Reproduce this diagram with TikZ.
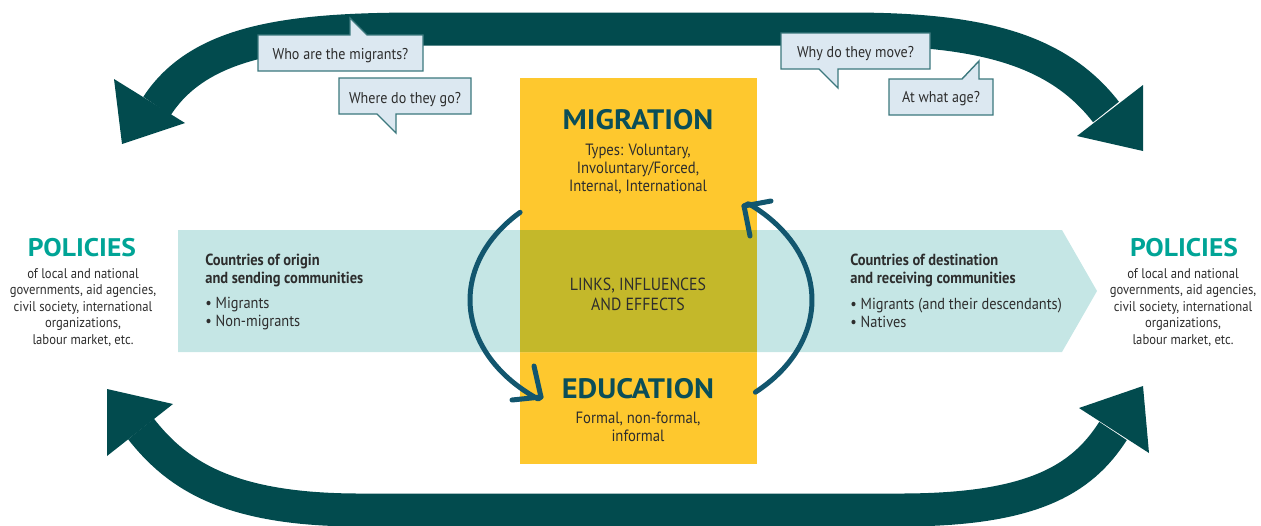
\documentclass[tikz,border=0pt]{standalone}
\usepackage{fontspec}
\setmainfont{PT Sans}[FakeStretch=0.9]
\newfontfamily\titlefont{PT Sans}[FakeStretch=1.08]
\usetikzlibrary{arrows.meta,calc}
\definecolor{darkarrow}{RGB}{2,75,78}
\definecolor{circblue}{RGB}{18,86,110}
\definecolor{myyellow}{RGB}{254,200,46}
\definecolor{bandteal}{RGB}{197,230,229}
\definecolor{overlapc}{RGB}{196,184,42}
\definecolor{calloutfill}{RGB}{220,232,241}
\definecolor{calloutborder}{RGB}{60,120,125}
\definecolor{policyteal}{RGB}{0,164,150}
\definecolor{titleteal}{RGB}{10,78,88}
\definecolor{textgray}{RGB}{45,45,45}
\begin{document}
\begin{tikzpicture}[x=0.02cm,y=-0.02cm,
  bigband/.style={draw=darkarrow,line width=0.66cm},
  headfill/.style={fill=darkarrow},
  circ/.style={draw=circblue,line width=0.1cm,line cap=round,line join=round},
  callout/.style={fill=calloutfill,draw=calloutborder,line width=0.8pt},
  calltext/.style={font=\fontsize{8.9}{11}\selectfont,text=textgray,inner sep=0pt,anchor=base},
  poltitle/.style={font=\titlefont\bfseries\fontsize{14.5}{16}\selectfont,text=policyteal,inner sep=0pt},
  poltext/.style={font=\fontsize{8}{9.35}\selectfont,text=textgray,inner sep=0pt,align=center,anchor=north},
  maintitle/.style={font=\titlefont\bfseries\fontsize{16}{18}\selectfont,text=titleteal,inner sep=0pt},
  typetext/.style={font=\fontsize{9.3}{10.2}\selectfont,text=textgray,inner sep=0pt,align=center,anchor=north},
  linktext/.style={font=\fontsize{10}{11.3}\selectfont,text=textgray,inner sep=0pt,align=center,anchor=north},
  bandhead/.style={font=\bfseries\fontsize{9.15}{10.4}\selectfont,text=textgray,inner sep=0pt,align=left,anchor=base west},
  bandbullet/.style={font=\fontsize{9.1}{10.4}\selectfont,text=textgray,inner sep=0pt,align=left,anchor=base west}
]
\useasboundingbox (0,0) rectangle (1261,525);
% central yellow box and teal band
\fill[myyellow] (520,78) rectangle (757,464);
\fill[bandteal] (178,230) -- (1062,230) -- (1097,291) -- (1062,352) -- (178,352) -- cycle;
\fill[overlapc] (520,230) rectangle (757,352);
% big dark arrows
\coordinate (tl) at (157,106);
\coordinate (tr) at (1106,112);
\coordinate (bl) at (141,429);
\coordinate (br) at (1113,431);
\draw[bigband] (tl) .. controls (200,40) and (290,29) .. (420,29) -- (850,29) .. controls (980,29) and (1057,49) .. (tr);
\fill[headfill] (114,79) -- (122,144) -- (185,123) -- cycle;
\fill[headfill] (1143,85) -- (1143,151) -- (1077,136) -- cycle;
\draw[bigband] (bl) .. controls (178,476) and (230,510) .. (360,510) -- (900,510) .. controls (1030,510) and (1081,481) .. (br);
\fill[headfill] (107,389) -- (173,404) -- (107,456) -- cycle;
\fill[headfill] (1143,386) -- (1079,408) -- (1149,453) -- cycle;
% callouts
\draw[callout] (258,35) -- (350,35) -- (350,18) -- (367,35) -- (423,35) -- (423,71) -- (258,71) -- cycle;
\draw[callout] (339,78) -- (471,78) -- (471,114) -- (396,114) -- (396,133) -- (377,114) -- (339,114) -- cycle;
\draw[callout] (781,33) -- (930,33) -- (930,69) -- (838,69) -- (838,88) -- (819,69) -- (781,69) -- cycle;
\draw[callout] (889,79) -- (962,79) -- (979,61) -- (979,79) -- (993,79) -- (993,115) -- (889,115) -- cycle;
\node[calltext] (q1) at (340.5,59.3) {Who are the migrants?};
\node[calltext] (q2) at (405,103.3) {Where do they go?};
\node[calltext] (q3) at (855.5,57.3) {Why do they move?};
\node[calltext] (q4) at (941,102.7) {At what age?};
% policies
\node[poltitle] (polL) at (82,247.5) {POLICIES};
\node[poltext] (polLt) at (83,268) {of local and national\\governments, aid agencies,\\civil society, international\\organizations,\\labour market, etc.};
\node[poltitle] (polR) at (1184,247.5) {POLICIES};
\node[poltext] (polRt) at (1183,268) {of local and national\\governments, aid agencies,\\civil society, international\\organizations,\\labour market, etc.};
% band texts (base = last line)
\node[bandhead] (orig) at (205,283.3) {Countries of origin\\and sending communities};
\node[bandbullet] (origb) at (205,326.7) {• Migrants\\• Non-migrants};
\node[bandhead] (dest) at (850,283.3) {Countries of destination\\and receiving communities};
\node[bandbullet] (destb) at (850,327.3) {• Migrants (and their descendants)\\• Natives};
% central texts
\node[maintitle] (mig) at (638,119.7) {MIGRATION};
\node[typetext] (types) at (638,144) {Types: Voluntary,\\Involuntary/Forced,\\Internal, International};
\node[linktext] (links) at (638,277.7) {LINKS, INFLUENCES\\AND EFFECTS};
\node[maintitle] (edu) at (638,389) {EDUCATION};
\node[typetext] (form) at (638,412) {Formal, non-formal,\\informal};
% circular arrows
\coordinate (ltip) at (541,397);
\coordinate (rtip) at (744,206);
\draw[circ] (520.1,212.3) arc[start angle=225,end angle=127,x radius=171,y radius=124] -- (ltip);
\draw[circ] ($(ltip)+(-7,-31)$) -- (ltip) -- ++(-29,3);
\draw[circ] (755.4,392.2) arc[start angle=48,end angle=-51,x radius=171,y radius=124] -- (rtip);
\draw[circ] ($(rtip)+(27,-5)$) -- (rtip) -- ++(6,30);
\end{tikzpicture}
\end{document}
